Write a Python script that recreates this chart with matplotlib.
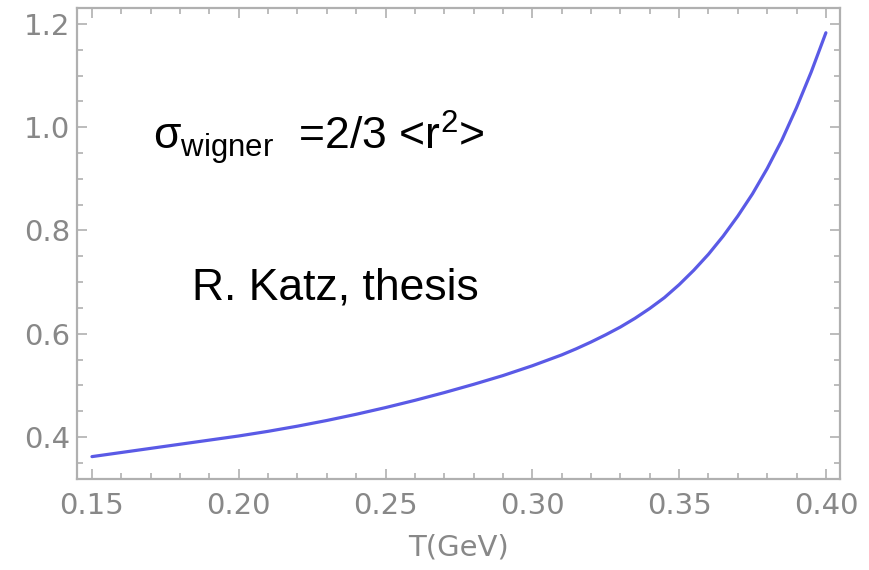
import matplotlib
matplotlib.use('Agg')
import matplotlib.pyplot as plt
from matplotlib.ticker import MultipleLocator

# values
T = [0.15, 0.16, 0.17, 0.18, 0.19, 0.20, 0.21, 0.22, 0.23, 0.24, 0.25, 0.26,
     0.27, 0.28, 0.29, 0.30, 0.31, 0.315, 0.32, 0.325, 0.33, 0.335, 0.34,
     0.345, 0.35, 0.355, 0.36, 0.365, 0.37, 0.375, 0.38, 0.385, 0.39, 0.395,
     0.40]
sigma = [0.362, 0.370, 0.378, 0.386, 0.394, 0.402, 0.411, 0.421, 0.432, 0.444,
         0.457, 0.471, 0.486, 0.502, 0.519, 0.538, 0.559, 0.571, 0.584, 0.598,
         0.613, 0.630, 0.649, 0.670, 0.695, 0.723, 0.754, 0.789, 0.828, 0.871,
         0.920, 0.975, 1.038, 1.107, 1.183]

xticks = [0.15, 0.20, 0.25, 0.30, 0.35, 0.40]
yticks = [0.4, 0.6, 0.8, 1.0, 1.2]

plt.rcParams['mathtext.fontset'] = 'custom'
plt.rcParams['mathtext.rm'] = 'Liberation Sans'

fig = plt.figure(figsize=(8.7, 5.7), dpi=100)
ax = fig.add_axes([0.0885, 0.1596, 0.877, 0.8264])

ax.plot(T, sigma, color='#5a5ae6', lw=2.3, solid_capstyle='round',
        solid_joinstyle='round')

ax.set_xlim(0.1449, 0.4048)
ax.set_ylim(0.3186, 1.231)
ax.set_xticks(xticks)
ax.set_xticklabels(['%.2f' % t for t in xticks])
ax.set_yticks(yticks)
ax.set_yticklabels(['%.1f' % t for t in yticks])
ax.xaxis.set_minor_locator(MultipleLocator(0.01))
ax.yaxis.set_minor_locator(MultipleLocator(0.05))

gray = '#b0b0b0'
for s in ax.spines.values():
    s.set_color(gray)
    s.set_linewidth(1.6)
ax.tick_params(which='both', direction='in', top=True, right=True, color=gray,
               labelcolor='#888888', labelsize=21, width=1.2)
ax.tick_params(which='major', length=7)
ax.tick_params(which='minor', length=4)
ax.tick_params(axis='x', pad=9)
ax.tick_params(axis='y', pad=5)
ax.set_xlabel('T(GeV)', fontsize=21, color='#888888', labelpad=10)

fig.text(0.176, 0.737, r'$\mathregular{\sigma_{wigner}}$  =2/3 <r$\mathregular{^2}$>',
         fontsize=32, family='Liberation Sans', ha='left', va='baseline')
fig.text(0.2207, 0.4737, 'R. Katz, thesis', fontsize=32,
         family='Liberation Sans', ha='left', va='baseline')

fig.savefig('out.png', dpi=100)
